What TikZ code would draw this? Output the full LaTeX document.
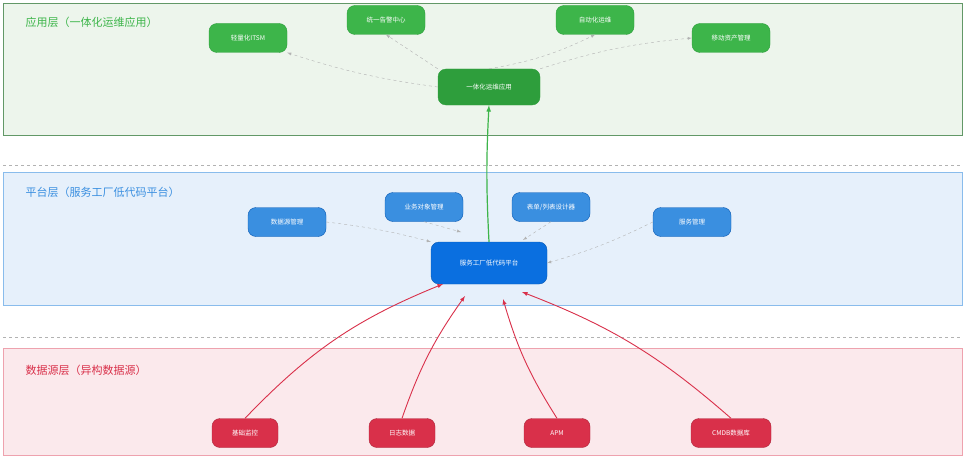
\documentclass[tikz,border=0pt]{standalone}
\usepackage{fontspec}
\setmainfont{Noto Sans CJK SC}
\usetikzlibrary{shapes.misc}
\definecolor{appg}{HTML}{3DB54A}
\definecolor{appd}{HTML}{2E9E3C}
\definecolor{plb}{HTML}{3A8FE0}
\definecolor{pld}{HTML}{0A6FE0}
\definecolor{srcr}{HTML}{D9304A}
\definecolor{bandg}{HTML}{EDF5EC}
\definecolor{bandb}{HTML}{E6F0FB}
\definecolor{bandr}{HTML}{FBE9EC}
\tikzset{
  box/.style={rounded corners=8pt, minimum width=78pt, minimum height=29pt, text=white, font=\fontsize{6.5}{7}\selectfont, inner sep=2pt},
  appbox/.style={box, fill=appg, draw=appd},
  platbox/.style={box, fill=plb, draw=pld!80!black},
  srcbox/.style={box, fill=srcr, draw=srcr!80!black, minimum width=66pt},
  link/.style={draw=gray!60, dashed, -latex, line width=0.4pt},
  feed/.style={draw=srcr, -latex, line width=0.9pt},
  band/.style={line width=0.6pt},
  title/.style={anchor=west, font=\fontsize{11}{12}\selectfont}
}
\begin{document}
\begin{tikzpicture}[x=1pt,y=-1pt]
  \useasboundingbox (0,0) rectangle (967,460);
  \fill[white] (0,0) rectangle (967,460);

  % layers
  \draw[band, fill=bandg, draw=appg!45!gray] (3,3) rectangle (962,135);
  \draw[band, fill=bandb, draw=plb!60] (3,172) rectangle (962,305);
  \draw[band, fill=bandr, draw=srcr!45] (3,348) rectangle (962,455);
  \draw[gray!60, dashed] (3,165) -- (962,165);
  \draw[gray!60, dashed] (3,337) -- (962,337);

  \node[title, text=appg] at (22,22) {应用层（一体化运维应用）};
  \node[title, text=plb] at (22,192) {平台层（服务工厂低代码平台）};
  \node[title, text=srcr] at (22,370) {数据源层（异构数据源）};

  % application layer
  \node[appbox, fill=appd, minimum width=102pt, minimum height=36pt] (app) at (489,87) {一体化运维应用};
  \node[appbox] (itsm) at (248,38) {轻量化ITSM};
  \node[appbox] (alarm) at (386,20) {统一告警中心};
  \node[appbox] (auto) at (595,20) {自动化运维};
  \node[appbox] (asset) at (731,38) {移动资产管理};

  \draw[link] (app.west) to[bend left=5] (itsm.south east);
  \draw[link] (app.north west) -- (alarm.south);
  \draw[link] (app.north) to[bend right=8] (auto.south);
  \draw[link] (app.north east) to[bend left=6] (asset.west);

  % platform layer
  \node[platbox, fill=pld, minimum width=116pt, minimum height=42pt] (plat) at (489,263) {服务工厂低代码平台};
  \node[platbox] (dsrc) at (287,222) {数据源管理};
  \node[platbox] (obj) at (424,207) {业务对象管理};
  \node[platbox] (form) at (551,207) {表单/列表设计器};
  \node[platbox] (svc) at (692,222) {服务管理};

  \draw[link] (dsrc.east) to[bend left=4] (plat.north west);
  \draw[link] (obj.south) -- (461,232);
  \draw[link] (form.south) -- (523,240);
  \draw[link] (svc.west) to[bend left=5] (plat.east);

  \draw[draw=appg, -latex, line width=1.2pt] (plat.north) to[bend left=3] (app.south);

  % data source layer
  \node[srcbox] (mon) at (245,433) {基础监控};
  \node[srcbox] (log) at (402,433) {日志数据};
  \node[srcbox] (apm) at (557,433) {APM};
  \node[srcbox, minimum width=80pt] (cmdb) at (731,433) {CMDB数据库};

  \draw[feed] (mon.north) to[bend left=12] (443,284);
  \draw[feed] (log.north) to[bend left=8] (465,296);
  \draw[feed] (apm.north) to[bend left=8] (503,299);
  \draw[feed] (cmdb.north) to[bend right=10] (522,292);
\end{tikzpicture}
\end{document}
